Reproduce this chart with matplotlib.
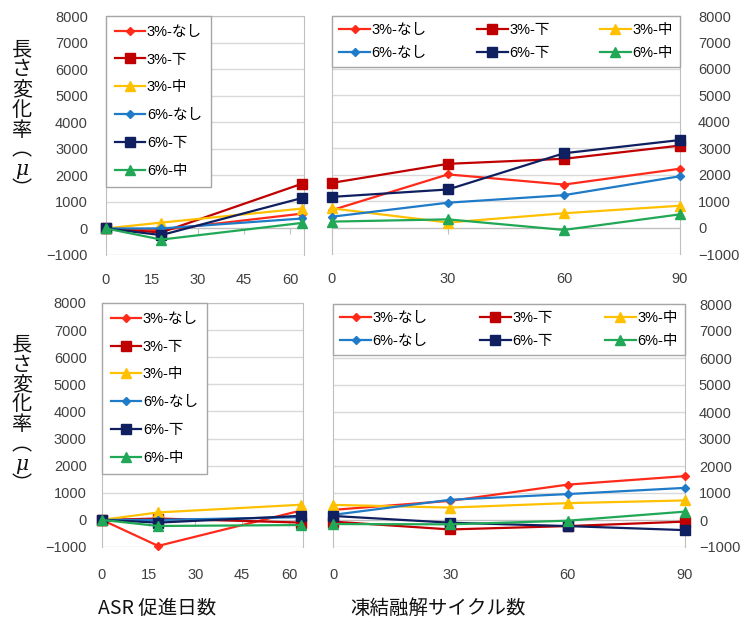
import matplotlib
matplotlib.use('Agg')
import matplotlib.pyplot as plt

# series names, colours and markers
labels = ['3%-なし', '3%-下', '3%-中', '6%-なし', '6%-下', '6%-中']
colors = ['#FF2A1A', '#C00000', '#FFC000', '#1F7BC8', '#0F1F5F', '#21A857']
markers = ['D', 's', '^', 'D', 's', '^']
msizes = [4.5, 7, 6.5, 4.5, 7, 6.5]

# x values
asr_days = [0, 18, 64]
ft_cycles = [0, 30, 60, 90]

# length change (micro strain), top row
asr_top = [[0, -60, 560],
           [0, -150, 1690],
           [0, 220, 750],
           [0, 0, 375],
           [0, -250, 1150],
           [0, -420, 210]]
ft_top = [[660, 2010, 1625, 2225],
          [1690, 2410, 2600, 3100],
          [725, 190, 540, 825],
          [410, 940, 1225, 1940],
          [1160, 1440, 2810, 3310],
          [225, 310, -90, 500]]

# bottom row
asr_bot = [[0, -960, 350],
           [0, 50, -100],
           [0, 275, 560],
           [0, 0, 100],
           [0, -100, 150],
           [0, -225, -190]]
ft_bot = [[375, 710, 1310, 1625],
          [-60, -350, -225, -60],
          [560, 460, 625, 725],
          [190, 750, 960, 1190],
          [150, -100, -225, -375],
          [-150, -160, -25, 310]]

yticks = list(range(-1000, 8001, 1000))
asr_ticks = [0, 15, 30, 45, 60]

FONT = ['Liberation Sans', 'Noto Sans CJK JP', 'DejaVu Sans']
CJK = ['Noto Sans CJK JP', 'DejaVu Sans']
plt.rcParams['font.family'] = FONT

W, H = 741, 624
fig = plt.figure(figsize=(W / 100, H / 100), dpi=100)


def px_axes(x0, y0, x1, y1):
    return fig.add_axes([x0 / W, 1 - y1 / H, (x1 - x0) / W, (y1 - y0) / H])


def setup(ax, xs, vals, xlim, xticks, right=False, legend_cols=1, bottom_px=23, ypad=13):
    for i in range(len(labels)):
        ax.plot(xs, vals[i], color=colors[i], marker=markers[i], markersize=msizes[i],
                linewidth=1.6, label=labels[i], clip_on=False, zorder=3 + i)
    ax.set_xlim(*xlim)
    ax.set_ylim(-1000, 8000)
    ax.set_yticks(yticks)
    ax.set_xticks(xticks)
    ax.grid(axis='y', color='#D9D9D9', linewidth=1)
    ax.set_axisbelow(True)
    for s in ['left', 'right', 'top']:
        ax.spines[s].set_color('#BFBFBF')
    # x axis crosses at zero, labels sit below the frame
    ax.spines['bottom'].set_position(('data', 0))
    ax.spines['bottom'].set_color('#BFBFBF')
    h_px = ax.get_position().height * H
    gap = h_px * 1000 / 9000 + bottom_px - 7
    ax.tick_params(axis='x', length=4, color='#BFBFBF', direction='out',
                   pad=(gap - 4) * 72 / 100, labelsize=10.5, labelcolor='#404040')
    if right:
        ax.yaxis.tick_right()
    ax.tick_params(axis='y', length=0, pad=ypad, labelsize=10.5, labelcolor='#404040')

    handles, labs = ax.get_legend_handles_labels()
    if legend_cols == 1:
        leg = ax.legend(handles, labs, loc='upper left', bbox_to_anchor=(0, 1),
                        borderaxespad=0, fontsize=10.5, labelspacing=0.95,
                        handlelength=2.1, handletextpad=0.1, borderpad=0.6,
                        fancybox=False, framealpha=1)
    else:
        # row-major order: 3% on the first row, 6% on the second
        order = [0, 3, 1, 4, 2, 5]
        leg = ax.legend([handles[k] for k in order], [labs[k] for k in order],
                        loc='upper left', bbox_to_anchor=(0, 0.745, 1, 0.255),
                        mode='expand', ncol=3, borderaxespad=0, fontsize=10.5,
                        labelspacing=0.6, handlelength=2.1, handletextpad=0.1,
                        borderpad=0.5, columnspacing=1.0,
                        fancybox=False, framealpha=1)
    frame = leg.get_frame()
    frame.set_edgecolor('#A6A6A6')
    frame.set_linewidth(1)
    leg.set_zorder(20)
    return ax


ax1 = px_axes(106, 16, 304, 255)
setup(ax1, asr_days, asr_top, (0, 64.5), asr_ticks)
ax2 = px_axes(332, 16, 680, 254)
setup(ax2, ft_cycles, ft_top, (0, 90), ft_cycles, right=True, legend_cols=3)
ax3 = px_axes(102, 303, 303, 547)
setup(ax3, asr_days, asr_bot, (0, 64.5), asr_ticks, bottom_px=26, ypad=11)
ax4 = px_axes(333, 304, 685, 547)
setup(ax4, ft_cycles, ft_bot, (0, 90), ft_cycles, right=True, legend_cols=3,
      bottom_px=26, ypad=10)

# vertical y-axis titles, one character per row
ylab_chars = ['長', 'さ', '変', '化', '率', '︵', 'μ', '︶']
for top in [50, 345]:
    for k, ch in enumerate(ylab_chars):
        fam = CJK
        style = 'normal'
        if ch == 'μ':
            fam = ['DejaVu Serif']
            style = 'italic'
        fig.text(22 / W, 1 - (top + 20 * k) / H, ch, family=fam, fontstyle=style,
                 fontsize=14.5, ha='center', va='center', color='#111111')

fig.text(157 / W, 1 - 608 / H, 'ASR 促進日数', family=CJK, fontsize=14,
         ha='center', va='center', color='#111111')
fig.text(438 / W, 1 - 608 / H, '凍結融解サイクル数', family=CJK, fontsize=14,
         ha='center', va='center', color='#111111')

fig.savefig('out.png', dpi=100)
